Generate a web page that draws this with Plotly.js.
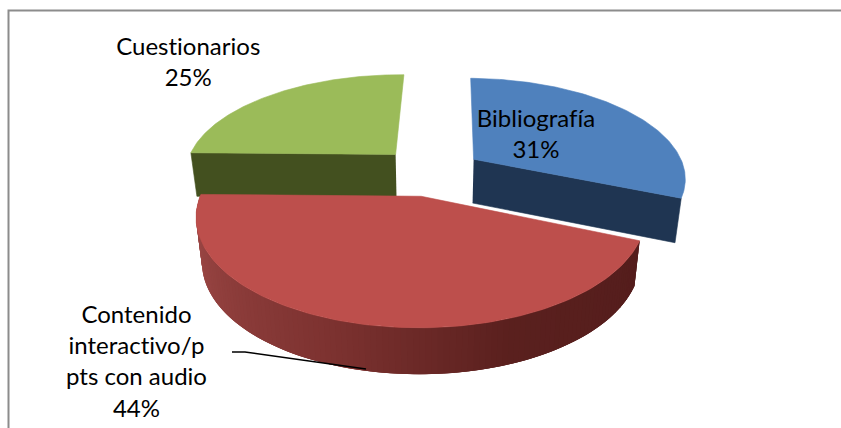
<!DOCTYPE html>
<html><head><meta charset="utf-8">
<script src="https://cdn.plot.ly/plotly-3.0.1.min.js"></script>
<style>html,body{margin:0;padding:0;background:#fff}#c{width:841px;height:428px}
#c text{font-variant-ligatures:none;font-feature-settings:"liga" 0,"clig" 0;text-rendering:optimizeSpeed}</style></head>
<body><div id="c"></div>
<script>
const categories = ["Bibliografía", "Contenido interactivo/ppts con audio", "Cuestionarios"];
const labelTexts = ["Bibliografía", "Contenido<br>interactivo/p<br>pts con audio", "Cuestionarios"];
const values = [31, 44, 25];
const explode = [0.24, 0.24, 0.255];
const topColors = ["#4f81bd", "#bd4f4c", "#9bbb59"];
const cutColors = ["#1f3552", "#5a1f1e", "#43501f"];
const labelX = [536, 136, 188];
const labelY = [133, 360, 61];

// projected exploded disc: plane coordinates -> screen pixels
const X0 = 432, Y0 = 172, A = 99.1, B = 212, K = 0.1736, DEPTH = 44, SHRINK = 0.975;
const ROT = 1 * Math.PI / 180;
function topPt(X, V) {
  const d = 1 - K * V;
  return [X0 + B * X / d, Y0 + A * V / d];
}
function botPt(X, V) {
  const p = topPt(X, V);
  return [X0 + (p[0] - X0) * SHRINK, p[1] + DEPTH + 2 * V];
}
const total = values.reduce((a, b) => a + b, 0);
const traces = [];
function poly(pts, color, edge) {
  traces.push({x: pts.map(p => p[0]), y: pts.map(p => p[1]), mode: edge ? "lines" : "none", fill: "toself",
    fillcolor: color, line: {color: color, width: edge ? 0.6 : 0}, hoverinfo: "skip", showlegend: false});
}
function mix(c1, c2, t) {
  return "rgb(" + c1.map((c, i) => Math.round(c + (c2[i] - c) * t)).join(",") + ")";
}
const redStops = [[0, [163, 76, 74]], [0.45, [125, 50, 48]], [0.7, [90, 32, 30]], [1, [84, 29, 28]]];
function redShade(t) {
  for (let i = 1; i < redStops.length; i++) {
    if (t <= redStops[i][0]) {
      const a = redStops[i - 1], b = redStops[i];
      return mix(a[1], b[1], (t - a[0]) / (b[0] - a[0]));
    }
  }
  return mix(redStops[3][1], redStops[3][1], 0);
}
const slices = [];
let acc = 0;
values.forEach((v, i) => {
  const a0 = ROT + acc / total * 2 * Math.PI, a1 = ROT + (acc + v) / total * 2 * Math.PI;
  acc += v;
  const mid = (a0 + a1) / 2;
  slices.push({i, a0, a1, ox: explode[i] * Math.sin(mid), ov: -explode[i] * Math.cos(mid)});
});
function pt(s, a) { return [s.ox + Math.sin(a), s.ov - Math.cos(a)]; }

// draw from back to front: green, blue, red
[slices[2], slices[0], slices[1]].forEach(s => {
  const n = 120, arc = [];
  for (let k = 0; k <= n; k++) arc.push(pt(s, s.a0 + (s.a1 - s.a0) * k / n));
  const apex = [s.ox, s.ov];
  if (s.i === 0) {
    // visible radial cut at the end of the slice
    const e = pt(s, s.a1);
    poly([topPt(...apex), topPt(...e), botPt(...e), botPt(...apex)], cutColors[0], true);
  }
  if (s.i === 2) {
    const e = pt(s, s.a0);
    poly([topPt(...apex), topPt(...e), botPt(...e), botPt(...apex)], cutColors[2], true);
  }
  if (s.i === 1) {
    // curved rim, painted from the left so each strip overlaps the one before
    for (let k = n - 1; k >= 0; k--) {
      const q = arc[k + 1], p = arc[Math.max(0, k - 2)];
      poly([topPt(...p), topPt(...q), botPt(...q), botPt(...p)], redShade(1 - (k + 0.5) / n), false);
    }
  }
  poly([topPt(...apex)].concat(arc.map(p => topPt(...p))).concat([topPt(...apex)]), topColors[s.i], true);
});

// leader line for the largest slice
traces.push({x: [232, 245, 366], y: [352, 352, 369], mode: "lines", line: {color: "#000", width: 1.5},
  hoverinfo: "skip", showlegend: false});

const annotations = categories.map((c, i) => ({
  x: labelX[i], y: labelY[i], xref: "x", yref: "y", showarrow: false, align: "center",
  xanchor: "center", yanchor: "middle",
  text: labelTexts[i] + "<br>" + values[i] + "%",
  font: {family: "Lato, Carlito, sans-serif", size: 24, color: "#000"}
}));

const layout = {
  width: 841, height: 428, margin: {l: 0, r: 0, t: 0, b: 0},
  paper_bgcolor: "#fff", plot_bgcolor: "#fff", showlegend: false,
  xaxis: {range: [0, 841], visible: false, fixedrange: true},
  yaxis: {range: [428, 0], visible: false, fixedrange: true},
  annotations,
  shapes: [{type: "path", xref: "x", yref: "y", path: "M8.5,428 L8.5,10.5 L841,10.5",
    line: {color: "#8c8c8c", width: 2}}]
};
Plotly.newPlot("c", traces, layout, {displayModeBar: false, staticPlot: true});
</script></body></html>
